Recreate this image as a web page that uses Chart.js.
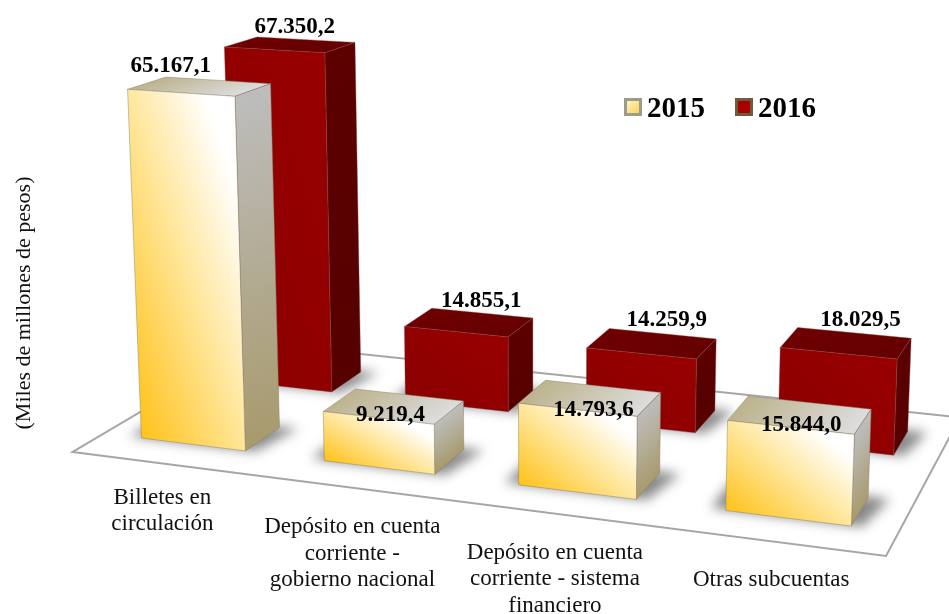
<!DOCTYPE html>
<html>
<head>
<meta charset="utf-8">
<style>html,body{margin:0;padding:0;background:#fff}canvas{display:block}</style>
<script src="https://cdn.jsdelivr.net/npm/chart.js@4/dist/chart.umd.min.js"></script>
</head>
<body>
<canvas id="c" width="949" height="614"></canvas>
<script>
const categories = [
  ["Billetes en", "circulación"],
  ["Depósito en cuenta", "corriente -", "gobierno nacional"],
  ["Depósito en cuenta", "corriente - sistema", "financiero"],
  ["Otras subcuentas"]
];
const values2015 = [65167.1, 9219.4, 14793.6, 15844.0];
const values2016 = [67350.2, 14855.1, 14259.9, 18029.5];
const seriesNames = ["2015", "2016"];
const yTitle = "(Miles de millones de pesos)";

/* perspective camera: floor homography + vertical vanishing point */
const CAM = {a:705.5,b:227.9,c:72.7,d:36.3,e:-50.8,f:452,g:-0.1217,h:0.1697,vx:535,vy:10300,k:5.34e-7};
function proj(u, v, val) {
  const w = CAM.g*u + CAM.h*v + 1, s = -CAM.k*val;
  return {
    x: (CAM.a*u + CAM.b*v + CAM.c + s*CAM.vx)/(w+s),
    y: (CAM.d*u + CAM.e*v + CAM.f + s*CAM.vy)/(w+s)
  };
}
const ROW = [{mid:0.244, half:0.0945}, {mid:0.748, half:0.0945}];
const LOOK = [
  {front:[[0,'#FFC21A'],[0.5,'#FFE79E'],[0.86,'#FFFFFF'],[1,'#FFFFFF']],
   side:[[0,'#BDBDBD'],[1,'#A89A6C']],
   top:[[0,'#BDB38E'],[1,'#DCDCDC']],
   edge:'rgba(130,125,100,0.45)'},
  {front:[[0,'#8A0000'],[1,'#990000']],
   side:[[0,'#5C0000'],[1,'#560000']],
   top:[[0,'#6E0000'],[1,'#660000']],
   edge:'rgba(130,70,70,0.4)'}
];
/* label nudges relative to the centre of each bar's top face */
const NUDGE = [
  [[-29,-21],[-3.5,9],[3,12],[1,10]],
  [[4.5,-18],[12,-21],[14.5,-24],[14,-23]]
];
const fmt = n => n.toFixed(1).replace('.',',').replace(/\B(?=(\d{3})+(?!\d))/g,'.');

function poly(ctx, pts){ctx.beginPath();pts.forEach((p,i)=>i?ctx.lineTo(p.x,p.y):ctx.moveTo(p.x,p.y));ctx.closePath();}
function face(ctx, pts, stops, mode, edge){
  const [TL,TR,BR,BL]=pts;
  ctx.save();
  poly(ctx,pts);ctx.clip();
  ctx.transform(TR.x-TL.x,TR.y-TL.y,BL.x-TL.x,BL.y-TL.y,TL.x,TL.y);
  const g = mode==='diag'?ctx.createLinearGradient(0,1,1,0):mode==='down'?ctx.createLinearGradient(0,0,0,1):ctx.createLinearGradient(0,0,1,0);
  stops.forEach(s=>g.addColorStop(s[0],s[1]));
  ctx.fillStyle=g;
  ctx.fillRect(-0.2,-0.2,1.4,1.4);
  ctx.restore();
  poly(ctx,pts);ctx.strokeStyle=edge;ctx.lineWidth=1;ctx.stroke();
}

const scene = {
  id:'scene3d',
  beforeDatasetsDraw(chart){
    const ctx=chart.ctx, xs=chart.scales.x, ys=chart.scales.y;
    ctx.save();
    /* floor */
    poly(ctx,[proj(0,0,0),proj(1,0,0),proj(1,1,0),proj(0,1,0)]);
    ctx.fillStyle='#fff';ctx.fill();
    ctx.strokeStyle='#A6A6A6';ctx.lineWidth=2;ctx.lineJoin='miter';ctx.stroke();

    const tags=[];
    [1,0].forEach(ds=>{
      const meta=chart.getDatasetMeta(ds), look=LOOK[ds], row=ROW[ds];
      meta.data.forEach((bar,i)=>{
        const uL=(bar.x-bar.width/2-xs.left)/xs.width, uR=(bar.x+bar.width/2-xs.left)/xs.width;
        const vF=row.mid-row.half, vB=row.mid+row.half, val=ys.getValueForPixel(bar.y);
        /* soft contact shadow */
        ctx.save();
        ctx.filter='blur(6px)';
        poly(ctx,[proj(uL-0.018,vF+0.004,0),proj(uR+0.012,vF+0.004,0),proj(uR+0.024,vB+0.01,0),proj(uL-0.018,vB+0.01,0)]);
        ctx.fillStyle='rgba(40,40,40,0.55)';ctx.fill();
        ctx.restore();
        const fTL=proj(uL,vF,val),fTR=proj(uR,vF,val),fBR=proj(uR,vF,0),fBL=proj(uL,vF,0);
        const bTL=proj(uL,vB,val),bTR=proj(uR,vB,val),bBR=proj(uR,vB,0);
        face(ctx,[bTL,bTR,fTR,fTL],look.top,'across',look.edge);
        face(ctx,[fTR,bTR,bBR,fBR],look.side,'down',look.edge);
        face(ctx,[fTL,fTR,fBR,fBL],look.front,'diag',look.edge);
        const cx=(fTL.x+fTR.x+bTL.x+bTR.x)/4, cy=(fTL.y+fTR.y+bTL.y+bTR.y)/4;
        tags.push({t:fmt(val),x:cx+NUDGE[ds][i][0],y:cy+NUDGE[ds][i][1]});
      });
    });
    /* value labels */
    ctx.fillStyle='#000';ctx.font='bold 23px "Liberation Serif"';ctx.textAlign='center';ctx.textBaseline='middle';
    tags.forEach(t=>ctx.fillText(t.t,t.x,t.y));
    /* category labels under the front edge of the floor */
    ctx.font='23px "Liberation Serif"';ctx.fillStyle='#111';ctx.textBaseline='alphabetic';
    xs.getLabels().forEach((lab,i)=>{
      const p=proj((xs.getPixelForValue(i)-xs.left)/xs.width,0,0);
      const first=p.y+(lab.length===2?40:45);
      lab.forEach((line,j)=>ctx.fillText(line,p.x-1,first+j*26.7));
    });
    /* legend */
    const lx=[624,735];
    chart.data.datasets.forEach((d,i)=>{
      const g=ctx.createLinearGradient(lx[i],98,lx[i]+18,116);
      if(i===0){g.addColorStop(0,'#FFFBE8');g.addColorStop(1,'#FFC933');}
      else{g.addColorStop(0,'#A00000');g.addColorStop(1,'#B00000');}
      ctx.fillStyle=g;ctx.fillRect(lx[i]+1.5,99.5,15,15);
      ctx.strokeStyle=i===0?'#9C9C8A':'#6E5A3C';ctx.lineWidth=3;ctx.strokeRect(lx[i]+1.5,99.5,15,15);
      ctx.fillStyle='#000';ctx.font='bold 29px "Liberation Serif"';ctx.textAlign='left';
      ctx.fillText(d.label,lx[i]+23,117);
    });
    ctx.restore();
    return false;
  }
};

new Chart(document.getElementById('c'),{
  type:'bar',
  data:{labels:categories,datasets:[
    {label:seriesNames[0],data:values2015,backgroundColor:'#FFD966'},
    {label:seriesNames[1],data:values2016,backgroundColor:'#8B0000'}
  ]},
  options:{
    responsive:false,animation:false,
    layout:{padding:{left:7,top:0,bottom:8,right:0}},
    datasets:{bar:{grouped:false,barPercentage:0.576,categoryPercentage:1}},
    plugins:{legend:{display:false},tooltip:{enabled:false}},
    scales:{
      x:{display:false},
      y:{min:0,max:70000,grid:{display:false},border:{display:false},ticks:{display:false},
         title:{display:true,text:yTitle,color:'#111',font:{family:'"Liberation Serif"',size:22}}}
    }
  },
  plugins:[scene]
});
</script>
</body>
</html>
